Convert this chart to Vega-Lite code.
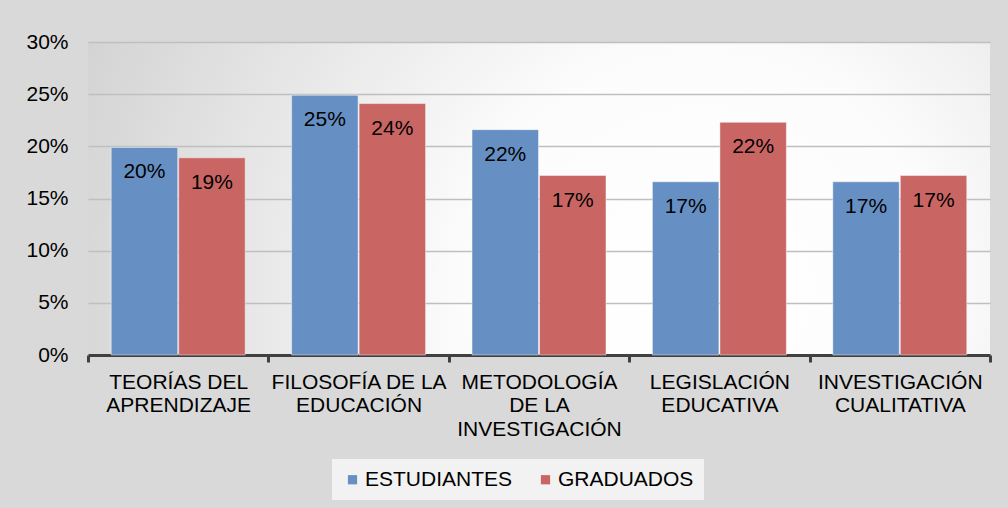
{
  "$schema": "https://vega.github.io/schema/vega-lite/v6.json",
  "width": 902,
  "height": 313,
  "autosize": {"type": "none"},
  "padding": {"left": 88, "top": 42, "right": 18, "bottom": 153},
  "background": "#d9d9d9",
  "data": {
    "values": [
      {"tema": "TEORÍAS DEL APRENDIZAJE", "grupo": "ESTUDIANTES", "valor": 0.199},
      {"tema": "TEORÍAS DEL APRENDIZAJE", "grupo": "GRADUADOS", "valor": 0.189},
      {"tema": "FILOSOFÍA DE LA EDUCACIÓN", "grupo": "ESTUDIANTES", "valor": 0.249},
      {"tema": "FILOSOFÍA DE LA EDUCACIÓN", "grupo": "GRADUADOS", "valor": 0.241},
      {"tema": "METODOLOGÍA DE LA INVESTIGACIÓN", "grupo": "ESTUDIANTES", "valor": 0.216},
      {"tema": "METODOLOGÍA DE LA INVESTIGACIÓN", "grupo": "GRADUADOS", "valor": 0.172},
      {"tema": "LEGISLACIÓN EDUCATIVA", "grupo": "ESTUDIANTES", "valor": 0.166},
      {"tema": "LEGISLACIÓN EDUCATIVA", "grupo": "GRADUADOS", "valor": 0.223},
      {"tema": "INVESTIGACIÓN CUALITATIVA", "grupo": "ESTUDIANTES", "valor": 0.166},
      {"tema": "INVESTIGACIÓN CUALITATIVA", "grupo": "GRADUADOS", "valor": 0.172}
    ]
  },
  "encoding": {
    "x": {
      "field": "tema",
      "type": "nominal",
      "sort": null,
      "title": null,
      "scale": {"paddingInner": 0, "paddingOuter": 0},
      "axis": {
        "labelAngle": 0,
        "labelFontSize": 21,
        "labelColor": "#000000",
        "labelLineHeight": 23.5,
        "labelPadding": 9,
        "labelLimit": 400,
        "tickBand": "extent",
        "tickSize": 7,
        "tickWidth": 3,
        "tickColor": "#404040",
        "domainColor": "#404040",
        "domainWidth": 3,
        "grid": false,
        "labelExpr": "datum.value == 'TEORÍAS DEL APRENDIZAJE' ? ['TEORÍAS DEL', 'APRENDIZAJE'] : datum.value == 'FILOSOFÍA DE LA EDUCACIÓN' ? ['FILOSOFÍA DE LA', 'EDUCACIÓN'] : datum.value == 'METODOLOGÍA DE LA INVESTIGACIÓN' ? ['METODOLOGÍA', 'DE LA', 'INVESTIGACIÓN'] : datum.value == 'LEGISLACIÓN EDUCATIVA' ? ['LEGISLACIÓN', 'EDUCATIVA'] : datum.value == 'INVESTIGACIÓN CUALITATIVA' ? ['INVESTIGACIÓN', 'CUALITATIVA'] : ''"
      }
    },
    "xOffset": {
      "field": "grupo",
      "type": "nominal",
      "sort": ["ESTUDIANTES", "GRADUADOS"],
      "scale": {"paddingInner": 0.015, "paddingOuter": 0.344}
    },
    "y": {
      "field": "valor",
      "type": "quantitative",
      "title": null,
      "scale": {"domain": [0, 0.3]},
      "axis": {
        "values": [0, 0.05, 0.1, 0.15, 0.2, 0.25, 0.3],
        "format": ".0%",
        "labelFontSize": 21,
        "labelColor": "#000000",
        "labelPadding": 20,
        "ticks": false,
        "tickSize": 0,
        "domain": false,
        "grid": true,
        "gridColor": "#bfbfbf",
        "gridWidth": 1.5
      }
    }
  },
  "layer": [
    {
      "mark": {"type": "bar", "stroke": "#ffffff", "strokeOpacity": 0.45, "strokeWidth": 1},
      "encoding": {
        "color": {
          "field": "grupo",
          "type": "nominal",
          "scale": {"domain": ["ESTUDIANTES", "GRADUADOS"], "range": ["#6690C4", "#C96664"]},
          "legend": {
            "title": null,
            "orient": "none",
            "legendX": 244,
            "legendY": 417,
            "direction": "horizontal",
            "symbolType": "square",
            "symbolSize": 85,
            "symbolStrokeWidth": 0,
            "labelFontSize": 21,
            "labelColor": "#000000",
            "labelOffset": 2,
            "columnPadding": 22,
            "padding": 10,
            "fillColor": "#f2f2f2"
          }
        }
      }
    },
    {
      "mark": {"type": "text", "baseline": "middle", "align": "center", "dy": 25, "fontSize": 21, "color": "#000000"},
      "encoding": {
        "text": {"field": "valor", "type": "quantitative", "format": ".0%"}
      }
    }
  ],
  "config": {
    "font": "Liberation Sans",
    "view": {
      "stroke": null,
      "fill": {
        "gradient": "radial",
        "x1": 0.68, "y1": 0.6, "r1": 0,
        "x2": 0.68, "y2": 0.6, "r2": 0.75,
        "stops": [
          {"offset": 0, "color": "#ffffff"},
          {"offset": 0.35, "color": "#fcfcfc"},
          {"offset": 1, "color": "#d2d2d2"}
        ]
      }
    }
  }
}
